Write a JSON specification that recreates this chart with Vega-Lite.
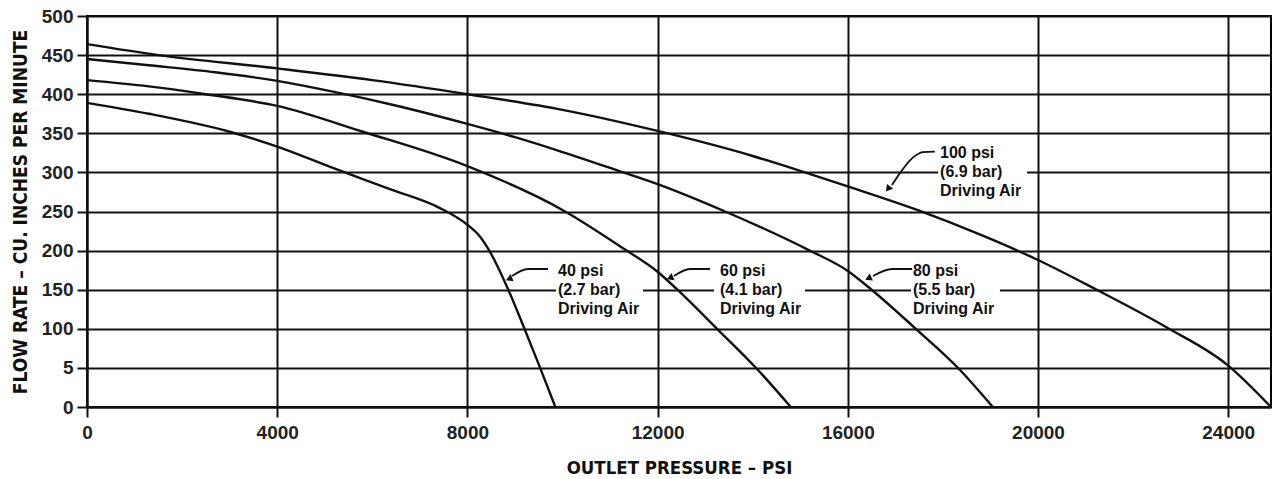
{
  "$schema": "https://vega.github.io/schema/vega-lite/v6.json",
  "width": 1184,
  "height": 391,
  "autosize": "none",
  "padding": {"left": 87, "top": 16, "right": 6, "bottom": 72},
  "background": "white",
  "config": {"view": {"stroke": "black", "strokeWidth": 2}},
  "datasets": {
    "curves": [
      {"series": "100 psi", "x": 0, "y": 464}, {"series": "100 psi", "x": 1500, "y": 450}, {"series": "100 psi", "x": 4000, "y": 433}, {"series": "100 psi", "x": 6000, "y": 418}, {"series": "100 psi", "x": 8000, "y": 400}, {"series": "100 psi", "x": 10000, "y": 380}, {"series": "100 psi", "x": 12000, "y": 353}, {"series": "100 psi", "x": 14000, "y": 321}, {"series": "100 psi", "x": 15000, "y": 302}, {"series": "100 psi", "x": 16000, "y": 282}, {"series": "100 psi", "x": 17500, "y": 251}, {"series": "100 psi", "x": 18800, "y": 220}, {"series": "100 psi", "x": 20000, "y": 188}, {"series": "100 psi", "x": 21200, "y": 151}, {"series": "100 psi", "x": 22700, "y": 102}, {"series": "100 psi", "x": 24000, "y": 53}, {"series": "100 psi", "x": 24900, "y": 0},
      {"series": "80 psi", "x": 0, "y": 445}, {"series": "80 psi", "x": 1300, "y": 437}, {"series": "80 psi", "x": 2700, "y": 428}, {"series": "80 psi", "x": 4000, "y": 417}, {"series": "80 psi", "x": 5200, "y": 403}, {"series": "80 psi", "x": 6600, "y": 384}, {"series": "80 psi", "x": 8000, "y": 362}, {"series": "80 psi", "x": 9000, "y": 345}, {"series": "80 psi", "x": 10000, "y": 326}, {"series": "80 psi", "x": 11180, "y": 302}, {"series": "80 psi", "x": 12000, "y": 285}, {"series": "80 psi", "x": 13420, "y": 250}, {"series": "80 psi", "x": 15200, "y": 200}, {"series": "80 psi", "x": 16000, "y": 174}, {"series": "80 psi", "x": 16500, "y": 150}, {"series": "80 psi", "x": 17430, "y": 100}, {"series": "80 psi", "x": 18350, "y": 48}, {"series": "80 psi", "x": 19050, "y": 0},
      {"series": "60 psi", "x": 0, "y": 418}, {"series": "60 psi", "x": 1300, "y": 410}, {"series": "60 psi", "x": 2500, "y": 400}, {"series": "60 psi", "x": 4000, "y": 385}, {"series": "60 psi", "x": 5800, "y": 352}, {"series": "60 psi", "x": 8000, "y": 308}, {"series": "60 psi", "x": 10000, "y": 252}, {"series": "60 psi", "x": 11300, "y": 202}, {"series": "60 psi", "x": 12000, "y": 173}, {"series": "60 psi", "x": 12400, "y": 151}, {"series": "60 psi", "x": 13250, "y": 100}, {"series": "60 psi", "x": 14100, "y": 48}, {"series": "60 psi", "x": 14800, "y": 0},
      {"series": "40 psi", "x": 0, "y": 389}, {"series": "40 psi", "x": 1300, "y": 375}, {"series": "40 psi", "x": 3000, "y": 352}, {"series": "40 psi", "x": 4000, "y": 333}, {"series": "40 psi", "x": 5200, "y": 305}, {"series": "40 psi", "x": 6400, "y": 278}, {"series": "40 psi", "x": 7400, "y": 255}, {"series": "40 psi", "x": 8000, "y": 233}, {"series": "40 psi", "x": 8250, "y": 219}, {"series": "40 psi", "x": 8460, "y": 200}, {"series": "40 psi", "x": 8860, "y": 150}, {"series": "40 psi", "x": 9200, "y": 100}, {"series": "40 psi", "x": 9530, "y": 50}, {"series": "40 psi", "x": 9850, "y": 0}
    ],
    "masks": [
      {"label": "40 psi", "x": 9863, "xe": 11693, "y": 140, "ye": 160},
      {"label": "60 psi", "x": 13186, "xe": 15100, "y": 140, "ye": 160},
      {"label": "80 psi", "x": 17330, "xe": 19200, "y": 140, "ye": 160},
      {"label": "100 psi", "x": 17900, "xe": 19770, "y": 290, "ye": 310}
    ],
    "leaders": [
      {"arrow": "40 psi", "x": 9695, "y": 176.5}, {"arrow": "40 psi", "x": 9274, "y": 176.5}, {"arrow": "40 psi", "x": 8938, "y": 167.5},
      {"arrow": "60 psi", "x": 13100, "y": 176.5}, {"arrow": "60 psi", "x": 12680, "y": 176.5}, {"arrow": "60 psi", "x": 12345, "y": 167.5},
      {"arrow": "80 psi", "x": 17350, "y": 176.5}, {"arrow": "80 psi", "x": 16930, "y": 176.5}, {"arrow": "80 psi", "x": 16530, "y": 167.5},
      {"arrow": "100 psi", "x": 17830, "y": 326.5}, {"arrow": "100 psi", "x": 17580, "y": 326}, {"arrow": "100 psi", "x": 17410, "y": 320.9}, {"arrow": "100 psi", "x": 16930, "y": 283.9}
    ],
    "heads": [
      {"arrow": "40 psi", "x": 8875, "y": 163.7},
      {"arrow": "60 psi", "x": 12260, "y": 165},
      {"arrow": "80 psi", "x": 16430, "y": 164.5},
      {"arrow": "100 psi", "x": 16845, "y": 278.8}
    ],
    "labels": [
      {"label": "40 psi\n(2.7 bar)\nDriving Air", "x": 9905, "y": 150},
      {"label": "60 psi\n(4.1 bar)\nDriving Air", "x": 13312, "y": 150},
      {"label": "80 psi\n(5.5 bar)\nDriving Air", "x": 17370, "y": 150},
      {"label": "100 psi\n(6.9 bar)\nDriving Air", "x": 17940, "y": 300}
    ]
  },
  "encoding": {
    "x": {
      "field": "x",
      "type": "quantitative",
      "scale": {"domain": [0, 24900], "nice": false, "zero": false},
      "axis": {
        "values": [0, 4000, 8000, 12000, 16000, 20000, 24000],
        "format": "d",
        "grid": true,
        "gridColor": "#111111",
        "gridWidth": 2,
        "gridOpacity": 1,
        "domain": true,
        "domainColor": "#111111",
        "domainWidth": 2,
        "ticks": true,
        "tickSize": 10,
        "tickWidth": 2,
        "tickColor": "#111111",
        "labelFont": "Liberation Sans",
        "labelFontSize": 19,
        "labelFontWeight": "bold",
        "labelColor": "#222222",
        "labelPadding": 6,
        "labelFlush": false,
        "title": "OUTLET PRESSURE – PSI",
        "titleFont": "Liberation Sans Narrow, DejaVu Sans Condensed, sans-serif",
        "titleFontSize": 18.5,
        "titleFontWeight": "bold",
        "titleColor": "#111111",
        "titleX": 592,
        "titleY": 60,
        "titleAlign": "center",
        "titleBaseline": "middle"
      }
    },
    "y": {
      "field": "y",
      "type": "quantitative",
      "scale": {"domain": [0, 500], "nice": false},
      "axis": {
        "values": [0, 50, 100, 150, 200, 250, 300, 350, 400, 450, 500],
        "format": "d",
        "labelExpr": "datum.value == 50 ? '5' : datum.label",
        "grid": true,
        "gridColor": "#111111",
        "gridWidth": 2,
        "gridOpacity": 1,
        "domain": true,
        "domainColor": "#111111",
        "domainWidth": 2,
        "ticks": true,
        "tickSize": 10,
        "tickWidth": 2,
        "tickColor": "#111111",
        "labelFont": "Liberation Sans",
        "labelFontSize": 19,
        "labelFontWeight": "bold",
        "labelColor": "#222222",
        "labelPadding": 4,
        "labelFlush": false,
        "title": "FLOW RATE – CU. INCHES PER MINUTE",
        "titleFont": "Liberation Sans Narrow, DejaVu Sans Condensed, sans-serif",
        "titleFontSize": 19,
        "titleFontWeight": "bold",
        "titleColor": "#111111",
        "titleAngle": -90,
        "titleX": -67,
        "titleY": 195.5,
        "titleAlign": "center",
        "titleBaseline": "middle"
      }
    }
  },
  "layer": [
    {
      "data": {"name": "masks"},
      "mark": {"type": "rect", "fill": "white", "stroke": null},
      "encoding": {"x2": {"field": "xe"}, "y2": {"field": "ye"}}
    },
    {
      "data": {"name": "curves"},
      "mark": {"type": "line", "color": "#111111", "strokeWidth": 2.4, "interpolate": "monotone"},
      "encoding": {"detail": {"field": "series", "type": "nominal"}}
    },
    {
      "data": {"name": "leaders"},
      "mark": {"type": "line", "color": "#111111", "strokeWidth": 1.8, "interpolate": "monotone"},
      "encoding": {"detail": {"field": "arrow", "type": "nominal"}}
    },
    {
      "data": {"name": "heads"},
      "transform": [{"filter": "datum.arrow != '100 psi'"}],
      "mark": {"type": "point", "shape": "triangle-left", "filled": true, "color": "#111111", "size": 60, "angle": -24, "opacity": 1},
      "encoding": {}
    },
    {
      "data": {"name": "heads"},
      "transform": [{"filter": "datum.arrow == '100 psi'"}],
      "mark": {"type": "point", "shape": "triangle-left", "filled": true, "color": "#111111", "size": 60, "angle": -52, "opacity": 1},
      "encoding": {}
    },
    {
      "data": {"name": "labels"},
      "mark": {"type": "text", "align": "left", "baseline": "middle", "dy": -19, "lineBreak": "\n", "lineHeight": 19, "font": "Liberation Sans", "fontSize": 16, "fontWeight": "bold", "color": "#111111"},
      "encoding": {"text": {"field": "label", "type": "nominal"}}
    }
  ]
}
